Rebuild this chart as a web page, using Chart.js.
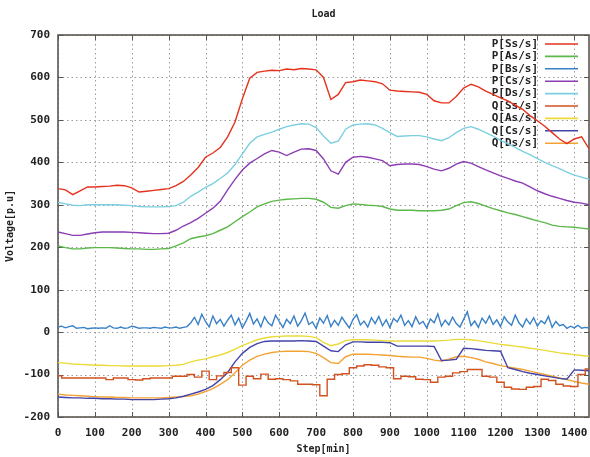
<!DOCTYPE html>
<html>
<head>
<meta charset="utf-8">
<title>Load</title>
<script src="https://cdn.jsdelivr.net/npm/chart.js@4.4.0/dist/chart.umd.min.js"></script>
<style>
  html, body { margin: 0; padding: 0; background: #fff; }
</style>
</head>
<body>
<canvas id="load" width="590" height="457"></canvas>
<script>
// minutes, sampled every 20 min
const steps = [0, 20, 40, 60, 80, 100, 120, 140, 160, 180, 200, 220, 240, 260, 280, 300, 320, 340, 360, 380,
  400, 420, 440, 460, 480, 500, 520, 540, 560, 580, 600, 620, 640, 660, 680, 700, 720, 740, 760, 780,
  800, 820, 840, 860, 880, 900, 920, 940, 960, 980, 1000, 1020, 1040, 1060, 1080, 1100, 1120, 1140, 1160, 1180,
  1200, 1220, 1240, 1260, 1280, 1300, 1320, 1340, 1360, 1380, 1400, 1420, 1440];

// the noisy one is read every 10 min
const stepsFine = [0, 10, 20, 30, 40, 50, 60, 70, 80, 90, 100, 110, 120, 130, 140, 150, 160, 170, 180, 190,
  200, 210, 220, 230, 240, 250, 260, 270, 280, 290, 300, 310, 320, 330, 340, 350, 360, 370, 380, 390,
  400, 410, 420, 430, 440, 450, 460, 470, 480, 490, 500, 510, 520, 530, 540, 550, 560, 570, 580, 590,
  600, 610, 620, 630, 640, 650, 660, 670, 680, 690, 700, 710, 720, 730, 740, 750, 760, 770, 780, 790,
  800, 810, 820, 830, 840, 850, 860, 870, 880, 890, 900, 910, 920, 930, 940, 950, 960, 970, 980, 990,
  1000, 1010, 1020, 1030, 1040, 1050, 1060, 1070, 1080, 1090, 1100, 1110, 1120, 1130, 1140, 1150, 1160, 1170, 1180, 1190,
  1200, 1210, 1220, 1230, 1240, 1250, 1260, 1270, 1280, 1290, 1300, 1310, 1320, 1330, 1340, 1350, 1360, 1370, 1380, 1390,
  1400, 1410, 1420, 1430, 1440];

const pSs = [338, 335, 324, 333, 342, 342, 343, 344, 346, 345, 340, 330, 332, 334, 336, 338, 345, 355, 370, 388,
  412, 422, 435, 460, 495, 550, 598, 612, 615, 617, 616, 620, 618, 621, 620, 618, 600, 548, 560, 588,
  590, 594, 592, 590, 585, 570, 568, 567, 566, 565, 560, 545, 540, 540, 555, 575, 584, 578, 568, 560,
  552, 545, 535, 525, 510, 498, 485, 470, 455, 444, 455, 460, 432];

const pAs = [203, 199, 196, 196, 198, 199, 199, 199, 198, 197, 196, 196, 195, 195, 196, 197, 203, 210, 220, 224,
  227, 232, 240, 248, 260, 272, 283, 295, 302, 308, 311, 313, 314, 315, 315, 313, 306, 294, 292, 298,
  302, 301, 299, 298, 296, 290, 287, 287, 287, 286, 286, 286, 287, 290, 298, 305, 307, 303, 297, 291,
  286, 281, 277, 272, 267, 262, 258, 252, 249, 248, 247, 245, 243];

const pBs = [12, 14, 10, 13, 15, 9, 10, 11, 8, 9, 10, 9, 10, 9, 15, 10, 9, 12, 9, 10,
  14, 12, 9, 10, 10, 9, 11, 10, 9, 12, 10, 10, 12, 9, 11, 13,
  22, 35, 18, 42, 25, 12, 38, 20, 30, 14,
  28, 40, 17, 33, 10, 26, 44, 19, 31, 12,
  36, 22, 15, 40, 25, 11, 30, 20, 38, 14,
  27, 45, 18, 24, 9, 33, 21, 39, 13, 28,
  16, 35, 22, 10, 30, 41, 17, 26, 12, 34,
  20, 37, 15, 29, 11, 32, 24, 40, 16, 27,
  13, 36, 19, 25, 10, 31, 22, 43, 14, 28,
  17, 35, 20, 12, 30, 48, 15, 26, 11, 33,
  21, 38, 18, 29, 13, 36, 24, 16, 40, 22,
  12, 31, 19, 34, 14, 27, 20, 37, 11, 25,
  15, 18, 9, 14, 10, 16, 9, 11, 10];

const pCs = [236, 232, 228, 228, 231, 234, 236, 236, 236, 236, 235, 234, 233, 232, 232, 233, 240, 250, 258, 268,
  280, 292, 308, 335, 360, 382, 398, 409, 420, 428, 424, 416, 424, 431, 432, 428, 408, 380, 372, 400,
  412, 414, 412, 408, 404, 392, 395, 396, 396, 395, 390, 384, 380, 386, 396, 402, 398, 390, 382, 375,
  368, 362, 356, 351, 342, 333, 326, 320, 315, 310, 306, 304, 300];

const pDs = [306, 302, 299, 298, 300, 300, 300, 300, 300, 299, 298, 296, 295, 295, 295, 296, 298, 306, 320, 330,
  341, 350, 362, 375, 395, 420, 445, 460, 466, 471, 478, 484, 488, 491, 490, 482, 462, 445, 450, 478,
  488, 490, 491, 488, 480, 470, 461, 462, 463, 463, 460, 455, 451, 458, 470, 480, 484, 478, 470, 462,
  452, 444, 435, 426, 418, 409, 400, 392, 385, 377, 370, 365, 360];

const qSs = [-103, -108, -108, -108, -108, -108, -108, -112, -108, -108, -112, -113, -110, -108, -108, -108, -104, -104, -100, -106,
  -92, -112, -103, -95, -84, -125, -104, -110, -99, -111, -110, -112, -115, -123, -123, -124, -150, -111, -100, -98,
  -84, -80, -77, -78, -82, -84, -110, -104, -105, -111, -112, -118, -106, -104, -96, -93, -88, -88, -104, -106,
  -118, -130, -134, -135, -130, -128, -111, -114, -123, -127, -128, -100, -87];

const qAs = [-72, -73, -75, -76, -77, -78, -78, -79, -79, -80, -80, -80, -80, -80, -80, -79, -78, -76, -70, -66,
  -63, -58, -54, -48, -40, -32, -25, -18, -14, -11, -10, -9, -9, -9, -10, -13, -24, -32, -28, -20,
  -18, -18, -18, -19, -20, -21, -21, -21, -21, -21, -21, -21, -20, -19, -17, -17, -18, -20, -23, -26,
  -29, -31, -33, -35, -38, -40, -43, -46, -49, -51, -53, -55, -57];

const qCs = [-153, -154, -155, -155, -156, -156, -157, -157, -158, -158, -159, -159, -159, -159, -158, -157, -155, -151, -146, -141,
  -135, -126, -112, -95, -70, -50, -36, -27, -22, -21, -21, -21, -21, -20, -21, -22, -33, -44, -46, -30,
  -23, -23, -24, -24, -24, -25, -33, -33, -33, -33, -33, -34, -67, -66, -64, -38, -39, -41, -43, -44,
  -45, -84, -88, -93, -97, -100, -103, -106, -109, -111, -89, -90, -91];

const qDs = [-146, -148, -149, -150, -151, -152, -153, -153, -154, -154, -155, -155, -155, -155, -155, -154, -153, -152, -150, -146,
  -140, -133, -123, -112, -96, -78, -66, -57, -52, -48, -46, -45, -45, -45, -46, -50, -60, -72, -74, -58,
  -52, -52, -52, -53, -54, -55, -57, -58, -59, -59, -62, -66, -68, -64, -58, -57, -60, -64, -70, -74,
  -79, -82, -85, -88, -92, -96, -100, -104, -108, -112, -116, -120, -123];

const yTicks = [-200, -100, 0, 100, 200, 300, 400, 500, 600, 700];
const xTicks = [0, 100, 200, 300, 400, 500, 600, 700, 800, 900, 1000, 1100, 1200, 1300, 1400];

const FONT = '"DejaVu Sans Mono", "Liberation Mono", monospace';

function pts(xs, ys) {
  return ys.map((v, i) => ({ x: xs[i], y: v }));
}

function line(label, xs, ys, color, stepped) {
  return {
    label: label,
    data: pts(xs, ys),
    borderColor: color,
    backgroundColor: color,
    borderWidth: 1.4,
    pointRadius: 0,
    tension: 0,
    stepped: stepped || false,
    fill: false
  };
}

// gnuplot style: dotted grid, box round the plot, inward ticks on all four sides, key inside
const framePlugin = {
  id: 'frame',
  beforeDatasetsDraw(chart) {
    const ctx = chart.ctx;
    const a = chart.chartArea;
    const sx = chart.scales.x, sy = chart.scales.y;
    ctx.save();

    ctx.strokeStyle = 'rgba(130,130,130,0.8)';
    ctx.lineWidth = 1;
    ctx.setLineDash([1.5, 3]);
    ctx.beginPath();
    xTicks.forEach(t => {
      const px = Math.round(sx.getPixelForValue(t)) + 0.5;
      ctx.moveTo(px, a.top); ctx.lineTo(px, a.bottom);
    });
    yTicks.forEach(t => {
      const py = Math.round(sy.getPixelForValue(t)) + 0.5;
      ctx.moveTo(a.left, py); ctx.lineTo(a.right, py);
    });
    ctx.stroke();
    ctx.setLineDash([]);

    ctx.strokeStyle = '#5a5550';
    ctx.beginPath();
    xTicks.forEach(t => {
      const px = Math.round(sx.getPixelForValue(t)) + 0.5;
      ctx.moveTo(px, a.bottom); ctx.lineTo(px, a.bottom - 5);
      ctx.moveTo(px, a.top); ctx.lineTo(px, a.top + 5);
    });
    yTicks.forEach(t => {
      const py = Math.round(sy.getPixelForValue(t)) + 0.5;
      ctx.moveTo(a.left, py); ctx.lineTo(a.left + 5, py);
      ctx.moveTo(a.right, py); ctx.lineTo(a.right - 5, py);
    });
    ctx.stroke();
    ctx.lineWidth = 1.6;
    ctx.strokeRect(a.left, a.top, a.right - a.left, a.bottom - a.top);

    ctx.font = 'bold 11px ' + FONT;
    ctx.textAlign = 'right';
    ctx.textBaseline = 'middle';
    chart.data.datasets.forEach((ds, i) => {
      const yy = a.top + 9 + i * 12.4;
      ctx.fillStyle = '#222';
      ctx.fillText(ds.label, a.right - 51, yy);
      ctx.strokeStyle = ds.borderColor;
      ctx.lineWidth = 1.6;
      ctx.beginPath();
      ctx.moveTo(a.right - 44, yy);
      ctx.lineTo(a.right - 11, yy);
      ctx.stroke();
    });
    ctx.restore();
  }
};

new Chart(document.getElementById('load'), {
  type: 'line',
  data: {
    datasets: [
      line('P[Ss/s]', steps, pSs, '#e5321d'),
      line('P[As/s]', steps, pAs, '#5db84b'),
      line('P[Bs/s]', stepsFine, pBs, '#3a80c6'),
      line('P[Cs/s]', steps, pCs, '#8b3db2'),
      line('P[Ds/s]', steps, pDs, '#7ccfe0'),
      line('Q[Ss/s]', steps, qSs, '#d2521f', 'middle'),
      line('Q[As/s]', steps, qAs, '#eadb3a'),
      line('Q[Cs/s]', steps, qCs, '#4343a8'),
      line('Q[Ds/s]', steps, qDs, '#f3a233')
    ]
  },
  options: {
    responsive: false,
    animation: false,
    layout: { padding: { left: 0, right: 1, top: 0, bottom: 0 } },
    plugins: {
      legend: { display: false },
      tooltip: { enabled: false },
      title: {
        display: true,
        text: 'Load',
        fullSize: false,
        color: '#222',
        font: { family: FONT, size: 10, weight: 'bold', lineHeight: 1.2 },
        padding: { top: 8, bottom: 15 }
      }
    },
    scales: {
      x: {
        type: 'linear',
        min: 0,
        max: 1440,
        afterFit: s => { s.height = 40; s.paddingLeft = 0; s.paddingRight = 0; },
        ticks: {
          stepSize: 100,
          includeBounds: false,
          autoSkip: false,
          maxRotation: 0,
          padding: 10,
          color: '#222',
          font: { family: FONT, size: 11, weight: 'bold' },
          callback: v => String(v)
        },
        grid: { display: false, drawTicks: false },
        border: { display: false },
        title: {
          display: true,
          text: 'Step[min]',
          color: '#222',
          font: { family: FONT, size: 10, weight: 'bold', lineHeight: 1.2 },
          padding: { top: 0, bottom: 2 }
        }
      },
      y: {
        min: -200,
        max: 700,
        afterFit: s => { s.width = 58; },
        ticks: {
          stepSize: 100,
          padding: 8,
          color: '#222',
          font: { family: FONT, size: 11, weight: 'bold' },
          callback: v => String(v)
        },
        grid: { display: false, drawTicks: false },
        border: { display: false },
        title: {
          display: true,
          text: 'Voltage[p.u]',
          color: '#222',
          font: { family: FONT, size: 10, weight: 'bold', lineHeight: 1.2 },
          padding: { top: 4, bottom: 0 }
        }
      }
    }
  },
  plugins: [framePlugin]
});
</script>
</body>
</html>
